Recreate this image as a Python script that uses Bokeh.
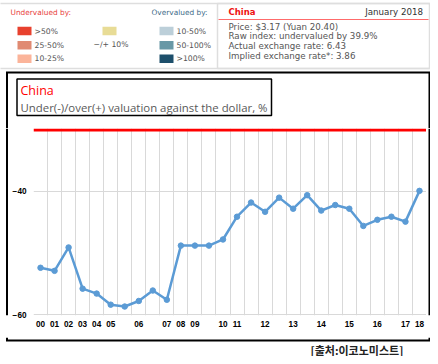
from bokeh.plotting import figure
from bokeh.layouts import column, row
from bokeh.models import Range1d, FixedTicker, Span
from bokeh.core.properties import value
from bokeh.embed import file_html
from bokeh.resources import INLINE

# ---- data ----
x_idx = list(range(28))
values = [-52.4, -52.9, -49.1, -55.8, -56.6, -58.4, -58.7, -57.8, -56.1, -57.6,
          -48.8, -48.8, -48.8, -47.8, -44.1, -41.8, -43.3, -41.0, -42.8, -40.6,
          -43.1, -42.2, -42.8, -45.6, -44.6, -44.1, -44.9, -39.9]
tick_pos = [0, 1, 2, 3, 4, 5, 7, 9, 10, 11, 13, 14, 16, 18, 20, 22, 24, 26, 27]
tick_labels = ["00", "01", "02", "03", "04", "05", "06", "07", "08", "09",
               "10", "11", "12", "13", "14", "15", "16", "17", "18"]
y_ticks = [-60, -40]
ref_line = -30

under_labels = [">50%", "25-50%", "10-25%"]
under_colors = ["#e8412e", "#e08a72", "#fbb49a"]
mid_label = "\u2212/+  10%"
mid_color = "#e8dc96"
over_labels = ["10-50%", "50-100%", ">100%"]
over_colors = ["#bccfd9", "#6898a6", "#1d4f6b"]

info_title = "China"
info_date = "January 2018"
info_lines = ["Price: $3.17 (Yuan 20.40)",
              "Raw index: undervalued by 39.9%",
              "Actual exchange rate: 6.43",
              "Implied exchange rate*: 3.86"]
chart_title = "China"
chart_subtitle = "Under(-)/over(+) valuation against the dollar, %"
source_text = "[출처:이코노미스트]"

HDR = "DejaVu Sans"
DX, DY = 3, 2          # visible window offset (ref coords of canvas origin)
W, H = 430, 356
FT, FB = 130, 339      # row top / bottom (ref y)


def decor(w, h, xr, yr):
    f = figure(width=w, height=h, x_range=Range1d(*xr), y_range=Range1d(*yr),
               x_axis_type=None, y_axis_type=None, min_border=0,
               toolbar_location=None, output_backend="svg")
    f.outline_line_color = None
    f.background_fill_color = "white"
    f.border_fill_color = "white"
    return f


def txt(f, x, y, t, size, color, font=HDR, style="normal", align="left"):
    f.text(x=[x], y=[y], text=[t], text_font=value(font), text_font_size=size,
           text_color=color, text_font_style=style, text_align=align,
           text_baseline="middle")


# ---------- header ----------
A = decor(W, FT - DY, (DX, DX + W), (FT, DY))
A.segment(x0=[0, 0], y0=[5, 70], x1=[440, 440], y1=[5, 70],
          line_color="#dedede", line_width=1.5)
txt(A, 13, 14, "Undervalued by:", "7.4px", "#e8413c")
txt(A, 154, 14, "Overvalued by:", "7.4px", "#3f6c8a")
rows = [32.5, 46.7, 60.3]
hh = 4.3
A.quad(left=[20] * 3, right=[34] * 3, top=[r - hh for r in rows],
       bottom=[r + hh for r in rows], fill_color=under_colors, line_color=None)
A.quad(left=[162] * 3, right=[176] * 3, top=[r - hh for r in rows],
       bottom=[r + hh for r in rows], fill_color=over_colors, line_color=None)
A.quad(left=[105], right=[119], top=[rows[0] - hh], bottom=[rows[0] + hh],
       fill_color=[mid_color], line_color=None)
for i in range(3):
    txt(A, 37, rows[i], under_labels[i], "7.7px", "#555555")
    txt(A, 179, rows[i], over_labels[i], "7.7px", "#555555")
txt(A, 96, 45.5, mid_label, "7.7px", "#555555")

# info box
A.quad(left=[220], right=[432], top=[5], bottom=[70], fill_color=None,
       line_color="#dedede", line_width=1.5)
txt(A, 231, 13.5, info_title, "8.5px", "#ee1111", style="bold")
txt(A, 425.5, 13.5, info_date, "8.7px", "#333333", align="right")
A.segment(x0=[221], y0=[21], x1=[431], y1=[21], line_color="#ff6b6b", line_width=1)
for i, t in enumerate(info_lines):
    txt(A, 231, 28 + 9.9 * i, t, "8.7px", "#555555")

# chart border (top part) and title box
A.segment(x0=[8.5, 9.5, 432], y0=[74, 74, 74], x1=[433, 9.5, 432], y1=[74, FT, FT],
          line_color="black", line_width=2)
A.quad(left=[19.5], right=[274], top=[80.5], bottom=[117], fill_color=None,
       line_color="black", line_width=1.5)
txt(A, 23, 91.5, chart_title, "12.5px", "#ff0000", font="Open Sans")
txt(A, 23, 108.5, chart_subtitle, "11.4px", "#595959", font="Open Sans")

# ---------- side strips ----------
MBL = 23                      # main figure left border
FL, FR = 35, 429              # frame left / right (ref x)
lw_ = FL - DX - MBL
L = decor(lw_, FB - FT, (DX, DX + lw_), (FB, FT))
L.segment(x0=[9.5], y0=[FT], x1=[9.5], y1=[FB], line_color="black", line_width=2)
rw_ = DX + W - FR
R = decor(rw_, FB - FT, (FR, FR + rw_), (FB, FT))
R.segment(x0=[432], y0=[FT], x1=[432], y1=[FB], line_color="black", line_width=2)

# ---------- main chart ----------
p = figure(width=MBL + (FR - FL), height=FB - FT, output_backend="svg",
           toolbar_location=None,
           x_range=Range1d(-0.5, 27.5), y_range=Range1d(-60.16, -29.76),
           min_border_left=MBL, min_border_right=0, min_border_top=0,
           min_border_bottom=22)
p.outline_line_color = None
p.background_fill_color = "white"
p.border_fill_color = "white"

p.xaxis.ticker = FixedTicker(ticks=tick_pos)
p.xaxis.major_label_overrides = {t: l for t, l in zip(tick_pos, tick_labels)}
p.yaxis.ticker = FixedTicker(ticks=y_ticks)
for ax in (p.xaxis, p.yaxis):
    ax.axis_line_color = None
    ax.major_tick_line_color = None
    ax.minor_tick_line_color = None
    ax.major_tick_out = 0
    ax.major_tick_in = 0
    ax.major_label_text_font = "Liberation Sans"
    ax.major_label_text_font_style = "bold"
    ax.major_label_text_font_size = "8.2px"
    ax.major_label_text_color = "black"
p.xaxis.major_label_standoff = 5
p.yaxis.major_label_standoff = 7

p.xgrid.ticker = FixedTicker(ticks=[i - 0.5 for i in range(29)])
p.xgrid.grid_line_color = "#d9d9d9"
p.ygrid.ticker = FixedTicker(ticks=y_ticks)
p.ygrid.grid_line_color = "#d9d9d9"

p.add_layout(Span(location=ref_line, dimension="width", line_color="#ff0000",
                  line_width=3))

p.line(x_idx, values, line_color="#5b9bd5", line_width=2.5)
p.scatter(x_idx, values, size=5.5, fill_color="#5b9bd5", line_color="#5b9bd5")

# ---------- bottom ----------
C = decor(W, DY + H - FB, (DX, DX + W), (DY + H, FB))
C.segment(x0=[9.5, 432, 8.5], y0=[FB, FB, 342], x1=[9.5, 432, 433], y1=[342, 342, 342],
          line_color="black", line_width=2)
txt(C, 313, 351, source_text, "11px", "#222222", font="Noto Sans CJK KR", style="bold")

layout = column(A, row(L, p, R), C)
open("out.html", "w").write(file_html(layout, INLINE))
